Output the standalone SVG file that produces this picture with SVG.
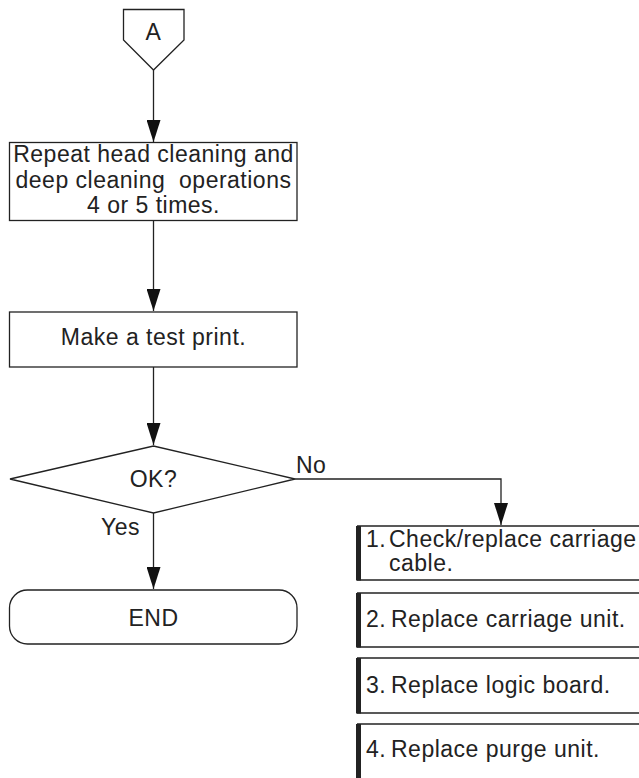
<svg xmlns="http://www.w3.org/2000/svg" width="639" height="778" viewBox="0 0 639 778">
<style>
.s{fill:#fff;stroke:#222;stroke-width:1.3}
.t{font-family:"Liberation Sans",Arial,sans-serif;font-size:23px;fill:#222;letter-spacing:0.5px;white-space:pre}
.c{text-anchor:middle}
.ln{fill:none;stroke:#222;stroke-width:1.3}
.bar{fill:#222}
.hl{stroke:#222;stroke-width:1.3}
</style>
<defs>
<marker id="ah" markerWidth="22" markerHeight="14" refX="22" refY="7" orient="auto" markerUnits="userSpaceOnUse" viewBox="0 0 22 14">
<path d="M0,0 L22,7 L0,14 Z" fill="#111"/>
</marker>
</defs>
<g id="connectors">
<line class="ln" x1="153.5" y1="70" x2="153.5" y2="142" marker-end="url(#ah)"/>
<line class="ln" x1="153.5" y1="220" x2="153.5" y2="311" marker-end="url(#ah)"/>
<line class="ln" x1="153.5" y1="367" x2="153.5" y2="445" marker-end="url(#ah)"/>
<line class="ln" x1="153.5" y1="513" x2="153.5" y2="589" marker-end="url(#ah)"/>
<polyline class="ln" points="295,479 501,479 501,525" marker-end="url(#ah)"/>
<text class="t" x="296" y="473">No</text>
<text class="t" x="140" y="535" text-anchor="end">Yes</text>
</g>
<g id="nodeA">
<polygon class="s" points="123.5,9.5 184,9.5 184,40 153.5,70 123.5,40"/>
<text class="t c" x="153.5" y="40">A</text>
</g>
<g id="repeat">
<rect class="s" x="9.5" y="142.5" width="287.5" height="78"/>
<text class="t c" x="153.5" y="162">Repeat head cleaning and</text>
<text class="t c" x="153.5" y="188">deep cleaning  operations</text>
<text class="t c" x="153.5" y="213">4 or 5 times.</text>
</g>
<g id="testprint">
<rect class="s" x="9.5" y="312" width="287.5" height="55"/>
<text class="t c" x="153.5" y="345">Make a test print.</text>
</g>
<g id="ok">
<polygon class="s" points="10,479 153.5,446 295,479 153.5,513"/>
<text class="t c" x="153.5" y="487">OK?</text>
</g>
<g id="end">
<rect class="s" x="9.5" y="590" width="287.5" height="54" rx="18" ry="18"/>
<text class="t c" x="153.5" y="626">END</text>
</g>
<g id="step1">
<line class="hl" x1="357" y1="526" x2="639" y2="526"/>
<line class="hl" x1="357" y1="580" x2="639" y2="580"/>
<rect class="bar" x="356" y="526" width="5" height="54.5"/>
<text class="t" x="366" y="547">1.</text>
<text class="t" x="389" y="547">Check/replace carriage</text>
<text class="t" x="389" y="571">cable.</text>
</g>
<g id="step2">
<line class="hl" x1="357" y1="593" x2="639" y2="593"/>
<line class="hl" x1="357" y1="647" x2="639" y2="647"/>
<rect class="bar" x="356" y="593" width="5" height="54.5"/>
<text class="t" x="366" y="627">2.</text>
<text class="t" x="391" y="627">Replace carriage unit.</text>
</g>
<g id="step3">
<line class="hl" x1="357" y1="658" x2="639" y2="658"/>
<line class="hl" x1="357" y1="713" x2="639" y2="713"/>
<rect class="bar" x="356" y="658" width="5" height="55.5"/>
<text class="t" x="366" y="693">3.</text>
<text class="t" x="391" y="693">Replace logic board.</text>
</g>
<g id="step4">
<line class="hl" x1="357" y1="724" x2="639" y2="724"/>
<rect class="bar" x="356" y="724" width="5" height="54"/>
<text class="t" x="366" y="757">4.</text>
<text class="t" x="391" y="757">Replace purge unit.</text>
</g>
</svg>
